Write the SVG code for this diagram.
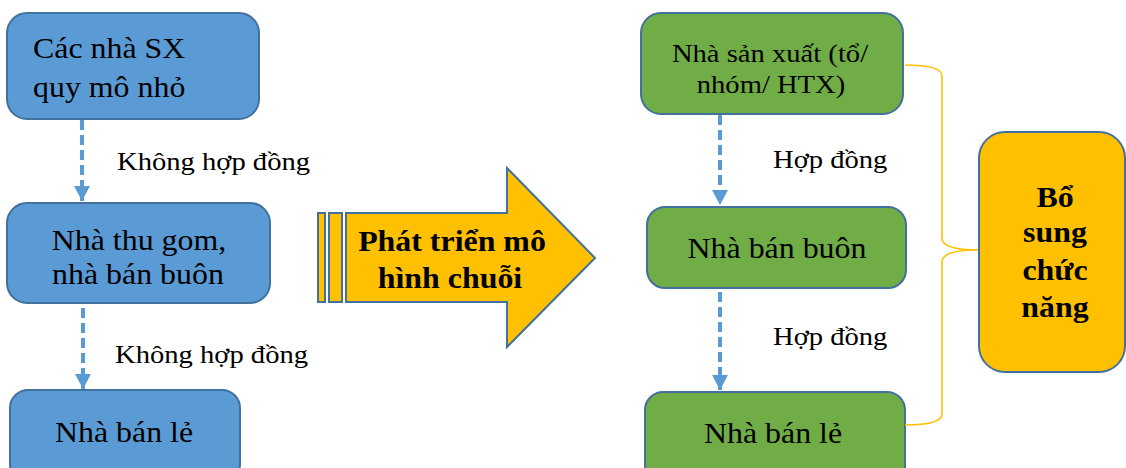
<svg xmlns="http://www.w3.org/2000/svg" width="1126" height="468" viewBox="0 0 1126 468">
  <style>
    .blue { fill: #5B9BD5; stroke: #41719C; stroke-width: 2; }
    .green { fill: #70AD47; stroke: #41719C; stroke-width: 2; }
    .gold { fill: #FFC000; stroke: #41719C; stroke-width: 2; }
    .t { font-family: "Liberation Serif", "Times New Roman", serif; fill: #000; text-anchor: middle; }
    .box { font-size: 29px; }
    .lbl { font-size: 26px; text-anchor: start; }
    .sm { font-size: 26px; }
    .b { font-size: 29px; font-weight: bold; }
    .flow { stroke: #5B9BD5; stroke-width: 4; stroke-dasharray: 10 5; fill: none; }
    .brace { stroke: #FFC000; stroke-width: 1.6; fill: none; }
  </style>
  <defs>
    <marker id="head" markerUnits="userSpaceOnUse" markerWidth="16" markerHeight="18" refX="15" refY="8" orient="auto">
      <path d="M0,0 L15,8 L0,16 Z" fill="#5B9BD5"/>
    </marker>
  </defs>
  <rect width="1126" height="468" fill="#fff"/>

  <!-- left column: chain without contracts -->
  <g id="small-producers">
    <rect class="blue" x="7" y="13" width="252" height="106" rx="20"/>
    <text class="t box" style="text-anchor:start" transform="translate(33,58) scale(1.1,1)">Các nhà SX</text>
    <text class="t box" style="text-anchor:start" transform="translate(33,97) scale(1.1,1)">quy mô nhỏ</text>
  </g>
  <g id="collectors">
    <rect class="blue" x="7" y="203" width="263" height="100" rx="20"/>
    <text class="t box" transform="translate(139,250) scale(1.1,1)">Nhà thu gom,</text>
    <text class="t box" transform="translate(138,284) scale(1.1,1)">nhà bán buôn</text>
  </g>
  <g id="retailers-left">
    <rect class="blue" x="10" y="390" width="230" height="92" rx="18"/>
    <text class="t box" transform="translate(124,442) scale(1.1,1)">Nhà bán lẻ</text>
  </g>

  <!-- central transition arrow -->
  <g id="develop-chain">
    <rect class="gold" x="318" y="213" width="7" height="89"/>
    <rect class="gold" x="329" y="213" width="13" height="89"/>
    <path class="gold" d="M346,213 L507,213 L507,168 L595,258 L507,347 L507,302 L346,302 Z"/>
    <text class="t b" transform="translate(452,251) scale(1.1,1)">Phát triển mô</text>
    <text class="t b" transform="translate(450,288) scale(1.1,1)">hình chuỗi</text>
  </g>

  <!-- right column: contract-based chain -->
  <g id="producers-group">
    <rect class="green" x="641" y="13" width="262" height="101" rx="20"/>
    <text class="t sm" transform="translate(770,62) scale(1.1,1)">Nhà sản xuất (tổ/</text>
    <text class="t sm" transform="translate(771,93) scale(1.1,1)">nhóm/ HTX)</text>
  </g>
  <g id="wholesaler">
    <rect class="green" x="647" y="207" width="259" height="81" rx="18"/>
    <text class="t box" transform="translate(777,258) scale(1.1,1)">Nhà bán buôn</text>
  </g>
  <g id="retailers-right">
    <rect class="green" x="645" y="392" width="260" height="92" rx="18"/>
    <text class="t box" transform="translate(773,443) scale(1.1,1)">Nhà bán lẻ</text>
  </g>
  <g id="added-functions">
    <rect class="gold" x="979" y="132" width="146" height="240" rx="26"/>
    <text class="t b" transform="translate(1055,207) scale(1.1,1)">Bổ</text>
    <text class="t b" transform="translate(1055,242) scale(1.1,1)">sung</text>
    <text class="t b" transform="translate(1055,280) scale(1.1,1)">chức</text>
    <text class="t b" transform="translate(1055,317) scale(1.1,1)">năng</text>
  </g>

  <!-- connectors -->
  <g id="connectors">
    <line class="flow" x1="82" y1="120" x2="82" y2="201" marker-end="url(#head)"/>
    <line class="flow" x1="83" y1="308" x2="83" y2="389" marker-end="url(#head)"/>
    <line class="flow" x1="720" y1="115" x2="720" y2="205" marker-end="url(#head)"/>
    <line class="flow" x1="720" y1="292" x2="720" y2="390" marker-end="url(#head)"/>
    <path class="brace" d="M905,65 Q942,65 942,76 L942,238 Q942,250 978,250 Q942,250 942,262 L942,414 Q942,425 905,425"/>
    <text class="t lbl" transform="translate(117,170) scale(1.1,1)">Không hợp đồng</text>
    <text class="t lbl" transform="translate(115,363) scale(1.1,1)">Không hợp đồng</text>
    <text class="t lbl" transform="translate(773,168) scale(1.1,1)">Hợp đồng</text>
    <text class="t lbl" transform="translate(773,345) scale(1.1,1)">Hợp đồng</text>
  </g>
</svg>
